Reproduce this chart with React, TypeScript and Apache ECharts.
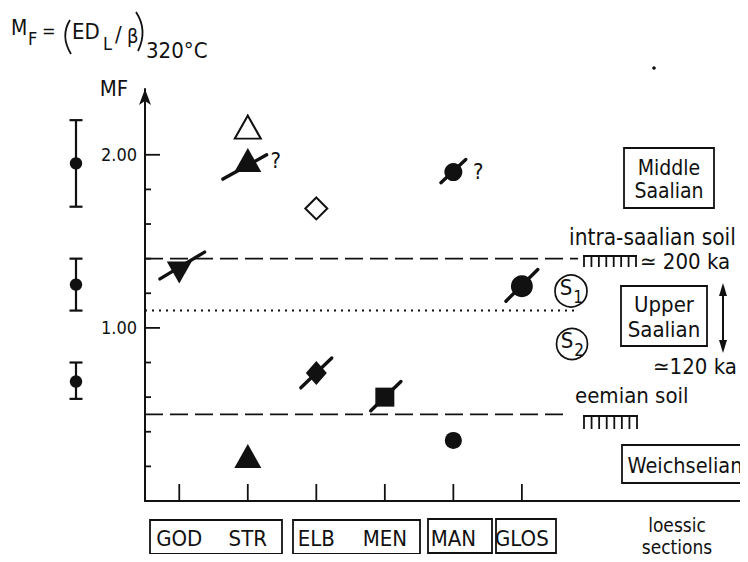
import React, { useEffect, useRef } from 'react';
import * as echarts from 'echarts';

// ---------- data ----------
const sections = ['GOD', 'STR', 'ELB', 'MEN', 'MAN', 'GLOS'];
const sectionPositions = [1, 2, 3, 4, 5, 6];
const yTickValues = [0.2, 0.4, 0.6, 0.8, 1.0, 1.2, 1.4, 1.6, 1.8, 2.0];
const yMajorTickValues = [1.0, 2.0];

const openTriangles = [[2, 2.16]];
const openDiamonds = [[3, 1.69]];
const filledTrianglesUp = [[2, 1.97], [2, 0.26]];
const filledTrianglesDown = [[1, 1.32]];
const filledDiamonds = [[3, 0.74]];
const filledSquares = [[4, 0.6]];
const filledCircles = [[5, 1.9], [5, 0.35], [6, 1.24]];
const slashedPoints = [[1, 1.32], [2, 1.97], [3, 0.74], [4, 0.6], [5, 1.9], [6, 1.24]];
const questionedPoints = [[2, 1.97], [5, 1.9]];

const intraSaalianSoil = 1.4;
const s1s2Boundary = 1.1;
const eemianSoil = 0.5;

const calibMean = [1.95, 1.25, 0.69];
const calibHigh = [2.2, 1.4, 0.8];
const calibLow = [1.7, 1.1, 0.59];

// ---------- styles ----------
const FONT = "'DejaVu Sans Condensed', 'DejaVu Sans', sans-serif";
const INK = '#111111';
const X_MIN = 0.5;
const X_MAX = 9.3;
const Y_MAX = 2.38;
const UPPER_LINE_END = 6.82;
const DOTTED_END = 6.8;
const LOWER_LINE_END = 6.67;
const circleSizes = [18, 17, 22];
// slash styling per slashed point: [dx, dy, length, angleDeg]
const slashStyle = [
  [3, -7, 52, 31],
  [-3, 7, 50, 29],
  [0, 0, 43, 44],
  [1, -1, 42, 44],
  [0, -1, 34, 43],
  [0, -1, 45, 45],
];
const questionOffset = [[28, 1], [25, -1]];

function txt(text: string, x: number, y: number, size: number, align = 'left', extra: any = {}) {
  return {
    type: 'text',
    x,
    y,
    silent: true,
    style: {
      text,
      fill: INK,
      fontSize: size,
      fontFamily: FONT,
      align,
      verticalAlign: 'middle',
      textAlign: align,
      textVerticalAlign: 'middle',
      ...extra,
    },
  };
}

function box(x: number, y: number, w: number, h: number) {
  return {
    type: 'rect',
    silent: true,
    shape: { x, y, width: w, height: h },
    style: { fill: 'none', stroke: INK, lineWidth: 1.8 },
  };
}

function hatch(x0: number, x1: number, y: number, h: number, n: number) {
  const children: any[] = [
    { type: 'line', shape: { x1: x0, y1: y, x2: x1, y2: y }, style: { stroke: INK, lineWidth: 2 } },
  ];
  for (let i = 0; i < n; i++) {
    const x = x0 + 1 + (i * (x1 - x0 - 2)) / (n - 1);
    children.push({ type: 'line', shape: { x1: x, y1: y, x2: x, y2: y + h }, style: { stroke: INK, lineWidth: 1.8 } });
  }
  return { type: 'group', silent: true, children };
}

export default function App() {
  const ref = useRef<HTMLDivElement>(null);
  useEffect(() => {
    if (!ref.current) return;
    const chart = echarts.init(ref.current, null, { renderer: 'svg' });

    const scatterBase = (name: string, data: number[][], symbol: string, size: any, filled: boolean, rotate = 0) => ({
      name,
      type: 'scatter',
      xAxisIndex: 0,
      yAxisIndex: 0,
      data,
      symbol,
      symbolSize: size,
      symbolRotate: rotate,
      z: 5,
      clip: false,
      itemStyle: filled
        ? { color: INK, borderWidth: 0, opacity: 1 }
        : { color: '#ffffff', borderColor: INK, borderWidth: 2, opacity: 1 },
    });

    const hLine = (name: string, v: number, xEnd: number, dash: number[], width: number) => ({
      name,
      type: 'line',
      xAxisIndex: 0,
      yAxisIndex: 0,
      data: [[X_MIN, v], [xEnd, v]],
      symbol: 'none',
      z: 2,
      lineStyle: { color: INK, width, type: dash, opacity: 1 },
    });

    const option: any = {
      animation: false,
      backgroundColor: '#ffffff',
      textStyle: { fontFamily: FONT },
      grid: [
        { left: 145, right: 0, top: 89, bottom: 61 },
        { left: 60, width: 32, top: 89, bottom: 61 },
      ],
      xAxis: [
        {
          type: 'value',
          gridIndex: 0,
          min: X_MIN,
          max: X_MAX,
          axisLine: { show: true, lineStyle: { color: INK, width: 2 } },
          axisTick: { show: false },
          axisLabel: { show: false },
          splitLine: { show: false },
        },
        { type: 'value', gridIndex: 1, min: 0, max: 2, show: false },
      ],
      yAxis: [
        {
          type: 'value',
          gridIndex: 0,
          min: 0,
          max: Y_MAX,
          interval: 1,
          axisLine: {
            show: true,
            symbol: ['none', 'arrow'],
            symbolSize: [9, 16],
            lineStyle: { color: INK, width: 2 },
          },
          axisTick: { show: false },
          splitLine: { show: false },
          axisLabel: {
            color: INK,
            fontSize: 18,
            fontFamily: FONT,
            margin: 8,
            formatter: (v: number) => (v === 1 || v === 2 ? v.toFixed(2) : ''),
          },
        },
        { type: 'value', gridIndex: 1, min: 0, max: Y_MAX, show: false },
      ],
      series: [
        hLine('intra-saalian soil', intraSaalianSoil, UPPER_LINE_END, [18, 7], 1.8),
        hLine('S1/S2', s1s2Boundary, DOTTED_END, [2, 5], 2),
        hLine('eemian soil', eemianSoil, LOWER_LINE_END, [18, 7], 1.8),
        // y ticks
        {
          type: 'custom',
          xAxisIndex: 0,
          yAxisIndex: 0,
          clip: false,
          z: 3,
          data: yTickValues.map((v) => [X_MIN, v]),
          renderItem: (params: any, api: any) => {
            const v = api.value(1);
            const p = api.coord([api.value(0), v]);
            const major = yMajorTickValues.some((m) => Math.abs(m - v) < 1e-6);
            return {
              type: 'line',
              shape: { x1: p[0], y1: p[1], x2: p[0] + (major ? 15 : 6), y2: p[1] },
              style: { stroke: INK, lineWidth: 1.8 },
            };
          },
        },
        // x ticks
        {
          type: 'custom',
          xAxisIndex: 0,
          yAxisIndex: 0,
          clip: false,
          z: 3,
          data: sectionPositions.map((x) => [x, 0]),
          renderItem: (params: any, api: any) => {
            const p = api.coord([api.value(0), api.value(1)]);
            return {
              type: 'line',
              shape: { x1: p[0], y1: p[1], x2: p[0], y2: p[1] - 17 },
              style: { stroke: INK, lineWidth: 1.8 },
            };
          },
        },
        // section labels
        {
          type: 'custom',
          xAxisIndex: 0,
          yAxisIndex: 0,
          clip: false,
          z: 3,
          data: sectionPositions.map((x) => [x, 0]),
          renderItem: (params: any, api: any) => {
            const p = api.coord([api.value(0), api.value(1)]);
            return {
              type: 'text',
              x: p[0],
              y: p[1] + 37,
              style: {
                text: sections[params.dataIndex],
                fill: INK,
                fontSize: 22,
                fontFamily: FONT,
                align: 'center',
                verticalAlign: 'middle',
                textAlign: 'center',
                textVerticalAlign: 'middle',
              },
            };
          },
        },
        // slashes
        {
          type: 'custom',
          xAxisIndex: 0,
          yAxisIndex: 0,
          clip: false,
          z: 4,
          data: slashedPoints,
          renderItem: (params: any, api: any) => {
            const p = api.coord([api.value(0), api.value(1)]);
            const [dx, dy, len, ang] = slashStyle[params.dataIndex];
            const a = (ang * Math.PI) / 180;
            const cx = p[0] + dx;
            const cy = p[1] + dy;
            const hx = (Math.cos(a) * len) / 2;
            const hy = (Math.sin(a) * len) / 2;
            return {
              type: 'line',
              shape: { x1: cx - hx, y1: cy + hy, x2: cx + hx, y2: cy - hy },
              style: { stroke: INK, lineWidth: 3.4, lineCap: 'round' },
            };
          },
        },
        // question marks
        {
          type: 'custom',
          xAxisIndex: 0,
          yAxisIndex: 0,
          clip: false,
          z: 4,
          data: questionedPoints,
          renderItem: (params: any, api: any) => {
            const p = api.coord([api.value(0), api.value(1)]);
            const [dx, dy] = questionOffset[params.dataIndex];
            return {
              type: 'text',
              x: p[0] + dx,
              y: p[1] + dy,
              style: {
                text: '?',
                fill: INK,
                fontSize: 22,
                fontFamily: FONT,
                align: 'center',
                verticalAlign: 'middle',
                textAlign: 'center',
                textVerticalAlign: 'middle',
              },
            };
          },
        },
        scatterBase('open triangle', openTriangles, 'triangle', [26, 23], false),
        scatterBase('open diamond', openDiamonds, 'diamond', [22, 22], false),
        scatterBase('filled triangle', filledTrianglesUp, 'triangle', [27, 24], true),
        scatterBase('filled inverted triangle', filledTrianglesDown, 'triangle', [25, 22], true, 180),
        scatterBase('filled diamond', filledDiamonds, 'diamond', [21, 24], true),
        scatterBase('filled square', filledSquares, 'rect', [19, 19], true),
        {
          ...scatterBase('filled circle', filledCircles, 'circle', 18, true),
          symbolSize: (val: any, params: any) => circleSizes[params.dataIndex],
        },
        // calibration error bars
        {
          type: 'custom',
          xAxisIndex: 1,
          yAxisIndex: 1,
          clip: false,
          z: 4,
          data: calibMean.map((m, i) => [1, m, calibLow[i], calibHigh[i]]),
          renderItem: (params: any, api: any) => {
            const c = api.coord([api.value(0), api.value(1)]);
            const lo = api.coord([api.value(0), api.value(2)]);
            const hi = api.coord([api.value(0), api.value(3)]);
            const st = { stroke: INK, lineWidth: 2.2 };
            return {
              type: 'group',
              children: [
                { type: 'line', shape: { x1: c[0], y1: hi[1], x2: c[0], y2: lo[1] }, style: st },
                { type: 'line', shape: { x1: c[0] - 6.5, y1: hi[1], x2: c[0] + 6.5, y2: hi[1] }, style: st },
                { type: 'line', shape: { x1: c[0] - 6.5, y1: lo[1], x2: c[0] + 6.5, y2: lo[1] }, style: st },
                { type: 'circle', shape: { cx: c[0], cy: c[1], r: 6.2 }, style: { fill: INK } },
              ],
            };
          },
        },
      ],
      graphic: [
        // title formula
        txt('M', 11, 28, 21),
        txt('F', 28, 38, 18),
        txt('=', 42, 30, 18),
        {
          type: 'bezierCurve', silent: true,
          shape: { x1: 70, y1: 20, x2: 71, y2: 54, cpx1: 60, cpy1: 36 },
          style: { stroke: INK, lineWidth: 1.8, fill: 'none' },
        },
        txt('ED', 72, 31, 22),
        txt('L', 103, 43, 18),
        txt('/', 115, 34, 22),
        txt('β', 127, 36, 20),
        {
          type: 'bezierCurve', silent: true,
          shape: { x1: 136, y1: 12, x2: 138, y2: 51, cpx1: 148, cpy1: 30 },
          style: { stroke: INK, lineWidth: 1.8, fill: 'none' },
        },
        txt('320°C', 146, 50, 22),
        // axis name
        txt('MF', 114, 88, 22, 'center'),
        // right annotations
        box(624, 148, 90, 60),
        txt('Middle\nSaalian', 669, 179, 21, 'center', { lineHeight: 23 }),
        txt('intra-saalian soil', 569, 237, 22.5),
        hatch(583, 637, 256, 11, 8),
        txt('≃ 200 ka', 640, 261, 22),
        { type: 'circle', silent: true, shape: { cx: 571, cy: 291, r: 16 }, style: { fill: 'none', stroke: INK, lineWidth: 1.7 } },
        txt('S', 566, 287, 22, 'center'),
        txt('1', 578, 297, 17, 'center'),
        { type: 'circle', silent: true, shape: { cx: 572, cy: 344, r: 15.5 }, style: { fill: 'none', stroke: INK, lineWidth: 1.7 } },
        txt('S', 567, 340, 22, 'center'),
        txt('2', 579, 350, 17, 'center'),
        box(621, 286, 86, 60),
        txt('Upper\nSaalian', 664, 317, 22, 'center', { lineHeight: 25 }),
        { type: 'line', silent: true, shape: { x1: 723, y1: 292, x2: 723, y2: 344 }, style: { stroke: INK, lineWidth: 2 } },
        { type: 'polygon', silent: true, shape: { points: [[723, 283], [719, 296], [727, 296]] }, style: { fill: INK } },
        { type: 'polygon', silent: true, shape: { points: [[723, 353], [719, 340], [727, 340]] }, style: { fill: INK } },
        txt('≃120 ka', 653, 366, 22),
        txt('eemian soil', 575, 395, 22),
        hatch(583, 638, 416, 13, 8),
        box(622, 445, 125, 38),
        txt('Weichselian', 685, 465, 21.5, 'center'),
        // bottom section boxes
        box(150, 520, 132, 34),
        box(293, 520, 127, 34),
        box(428, 519, 64, 34),
        box(496, 519, 60, 34),
        txt('loessic\nsections', 677, 536, 19, 'center', { lineHeight: 22 }),
        { type: 'circle', silent: true, shape: { cx: 654, cy: 68, r: 1.8 }, style: { fill: INK } },
      ],
    };

    chart.setOption(option);
    return () => chart.dispose();
  }, []);

  return <div ref={ref} style={{ width: 748, height: 562, margin: -8 }} />;
}
